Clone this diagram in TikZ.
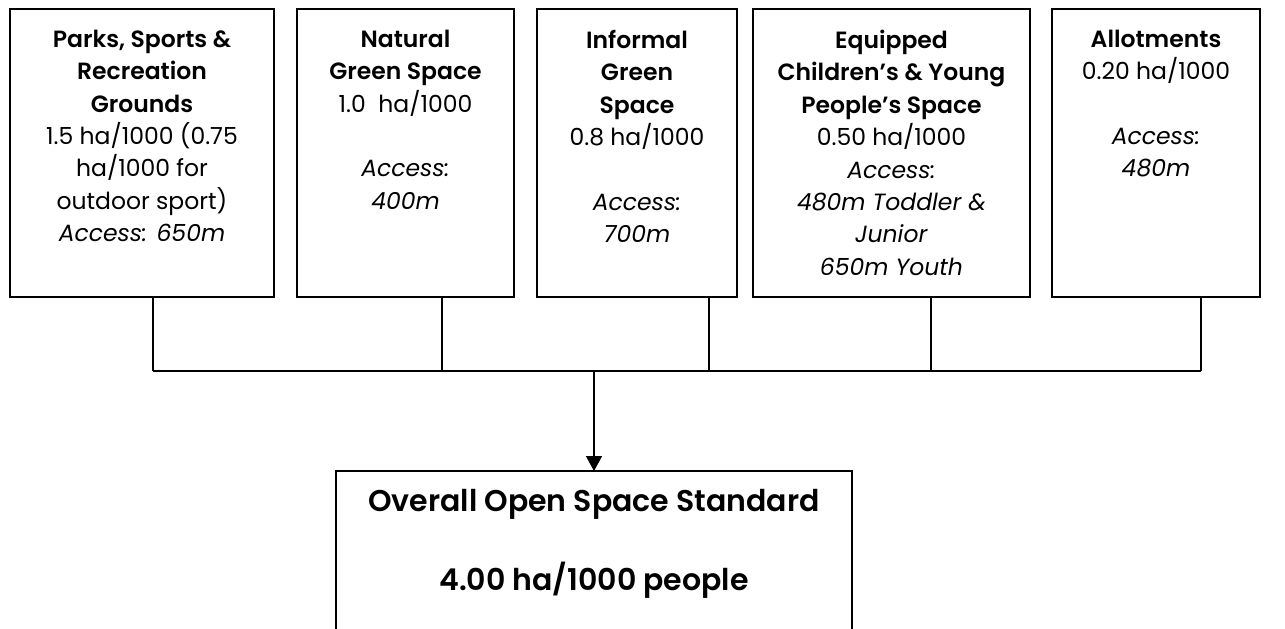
\documentclass[tikz,border=0pt]{standalone}
\usepackage{fontspec}
\setmainfont{Poppins}[BoldFont={Poppins SemiBold}]
\usetikzlibrary{positioning, arrows.meta}

\newcommand{\boxtext}[2]{%
  \begin{minipage}[c][288pt][t]{#1}\centering
  \fontsize{23.5}{32.4}\selectfont
  \vspace*{21pt}#2\end{minipage}}

\begin{document}
\begin{tikzpicture}[
x=1pt, y=-1pt,
spacebox/.style={rectangle,
  draw,
  line width=1.8pt,
  inner sep=0pt,
  outer sep=0pt,
  minimum height=288pt,
},
link/.style={line width=1.6pt},
>={Triangle[width=16pt,length=15pt]}
]
\useasboundingbox (0,0) rectangle (1285,629);
\clip (0,0) rectangle (1285,629);

\node[spacebox, minimum width=264pt, anchor=north west] (parks) at (10,9)
    {\boxtext{260pt}{\textbf{Parks, Sports \&}\\ \textbf{Recreation}\\ \textbf{Grounds}\\
     1.5 ha/1000 (0.75\\ ha/1000 for\\ outdoor sport)\\ \textit{Access: 650m}}};
\node[spacebox, minimum width=217pt, right=23pt of parks] (natural)
    {\boxtext{213pt}{\textbf{Natural}\\ \textbf{Green Space}\\ 1.0~~ha/1000\\ \mbox{}\\
     \textit{Access:}\\ \textit{400m}}};
\node[spacebox, minimum width=200pt, right=23pt of natural] (informal)
    {\boxtext{196pt}{\textbf{Informal}\\ \textbf{Green}\\ \textbf{Space}\\ 0.8 ha/1000\\ \mbox{}\\
     \textit{Access:}\\ \textit{700m}}};
\node[spacebox, minimum width=277pt, right=16pt of informal] (equipped)
    {\boxtext{273pt}{\textbf{Equipped}\\ \textbf{Children’s \& Young}\\ \textbf{People’s Space}\\
     0.50 ha/1000\\ \textit{Access:}\\ \textit{480m Toddler \&}\\ \textit{Junior}\\ \textit{650m Youth}}};
\node[spacebox, minimum width=208pt, right=22pt of equipped] (allot)
    {\boxtext{204pt}{\textbf{Allotments}\\ 0.20 ha/1000\\ \mbox{}\\
     \textit{Access:}\\ \textit{480m}}};

\node[spacebox, line width=1.4pt, minimum width=516pt, minimum height=250pt, anchor=north west] (total) at (336,471)
    {\begin{minipage}[c][250pt][t]{510pt}\centering
     \fontsize{30}{79}\selectfont\vspace*{18pt}%
     \textbf{Overall Open Space Standard}\\ \textbf{4.00 ha/1000 people}\end{minipage}};

% links to the bar
\coordinate (bar) at ([yshift=-74pt]parks.south);
\foreach \b/\dx in {parks/11, natural/36.5, informal/72, equipped/39.5, allot/45}
  \draw[link] ([xshift=\dx pt]\b.south) -- ([xshift=\dx pt, yshift=-74pt]\b.south);
\draw[link] ([xshift=11pt, yshift=-74pt]parks.south) -- ([xshift=45pt, yshift=-74pt]allot.south);
\draw[link, ->] (bar -| total.north) -- (total.north);
\end{tikzpicture}
\end{document}
